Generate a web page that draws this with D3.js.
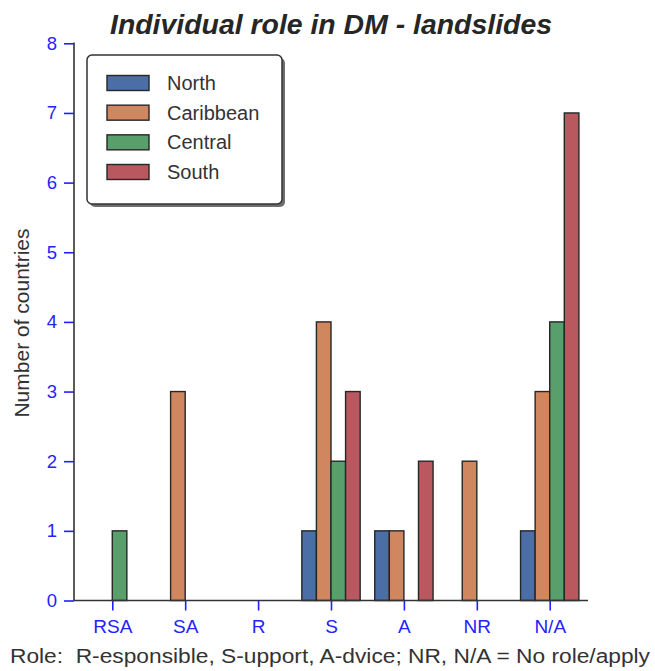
<!DOCTYPE html>
<html>
<head>
<meta charset="utf-8">
<script src="https://cdn.jsdelivr.net/npm/d3@7"></script>
<style>
  body { margin: 0; background: #fff; }
  svg { display: block; }
  text { font-family: "Liberation Sans", Arial, sans-serif; }
</style>
</head>
<body>
<svg id="chart" width="655" height="671"></svg>
<script>
const categories = ["RSA", "SA", "R", "S", "A", "NR", "N/A"];
const seriesNames = ["North", "Caribbean", "Central", "South"];
const north     = [0, 0, 0, 1, 1, 0, 1];
const caribbean = [0, 3, 0, 4, 1, 2, 3];
const central   = [1, 0, 0, 2, 0, 0, 4];
const south     = [0, 0, 0, 3, 2, 0, 7];
const yTicks = [0, 1, 2, 3, 4, 5, 6, 7, 8];
const colors = ["#4c6ea6", "#d0875f", "#589f6c", "#b9585e"];
const title = "Individual role in DM - landslides";
const yLabel = "Number of countries";
const footnote = "Role:  R-esponsible, S-upport, A-dvice; NR, N/A = No role/apply";

const seriesValues = [north, caribbean, central, south];
const svg = d3.select("#chart");

const x = d3.scaleLinear().domain([-0.525, categories.length - 1 + 0.525]).range([74, 588]);
const y = d3.scaleLinear().domain([0, 8]).range([600.5, 43.3]);
const barW = 0.2;

// bars
seriesValues.forEach((vals, j) => {
  svg.append("g").selectAll("rect").data(vals.map((v, i) => ({v, i})).filter(d => d.v > 0))
    .enter().append("rect")
    .attr("x", d => x(d.i - 0.4 + j * barW))
    .attr("width", d => x(barW) - x(0))
    .attr("y", d => y(d.v))
    .attr("height", d => y(0) - y(d.v))
    .attr("fill", colors[j])
    .attr("stroke", "#262626")
    .attr("stroke-width", 1.4);
});

// y axis
const yAxis = d3.axisLeft(y).tickValues(yTicks).tickFormat(d3.format("d")).tickSize(10).tickPadding(7);
const gy = svg.append("g").attr("transform", "translate(74,0)").call(yAxis);
gy.select(".domain").remove();
gy.selectAll(".tick line").attr("stroke", "#1f1fff").attr("stroke-width", 1.6);
gy.selectAll(".tick text").attr("fill", "#2323ff").style("font-size", "18.5px");
svg.append("line").attr("x1", 74).attr("x2", 74).attr("y1", y(8) - 0.8).attr("y2", y(0))
  .attr("stroke", "#333").attr("stroke-width", 1.6);

// x axis
const xAxis = d3.axisBottom(x).tickValues(d3.range(categories.length)).tickFormat(i => categories[i]).tickSize(10).tickPadding(9);
const gx = svg.append("g").attr("transform", `translate(0,${y(0)})`).call(xAxis);
gx.select(".domain").remove();
gx.selectAll(".tick line").attr("stroke", "#1f1fff").attr("stroke-width", 1.6);
gx.selectAll(".tick text").attr("fill", "#2323ff").style("font-size", "19px");
svg.append("line").attr("x1", 74).attr("x2", 588).attr("y1", y(0)).attr("y2", y(0))
  .attr("stroke", "#333").attr("stroke-width", 1.6);

// title
svg.append("text").attr("x", 110).attr("y", 34)
  .attr("textLength", 442).attr("lengthAdjust", "spacingAndGlyphs")
  .style("font-size", "27.5px").style("font-weight", "bold").style("font-style", "italic")
  .attr("fill", "#262626").text(title);

// y label
svg.append("text").attr("transform", "translate(29,323) rotate(-90)").attr("text-anchor", "middle")
  .style("font-size", "21px").attr("fill", "#333").text(yLabel);

// footnote
svg.append("text").attr("x", 10).attr("y", 663)
  .attr("textLength", 640).attr("lengthAdjust", "spacingAndGlyphs")
  .style("white-space", "pre")
  .style("font-size", "20px").attr("fill", "#333").text(footnote);

// legend
const lg = svg.append("g");
lg.append("rect").attr("x", 90).attr("y", 58).attr("width", 195).attr("height", 149).attr("rx", 5)
  .attr("fill", "#555").attr("opacity", 0.85);
lg.append("rect").attr("x", 87).attr("y", 55).attr("width", 195).attr("height", 149).attr("rx", 5)
  .attr("fill", "#fff").attr("stroke", "#333").attr("stroke-width", 1.5);
const rowY = d3.scaleLinear().domain([0, 3]).range([83, 172]);
seriesNames.forEach((name, j) => {
  lg.append("rect").attr("x", 107).attr("y", rowY(j) - 7.5).attr("width", 42).attr("height", 15)
    .attr("fill", colors[j]).attr("stroke", "#262626").attr("stroke-width", 1.4);
  lg.append("text").attr("x", 167).attr("y", rowY(j) + 7).style("font-size", "20px")
    .attr("fill", "#333").text(name);
});
</script>
</body>
</html>
